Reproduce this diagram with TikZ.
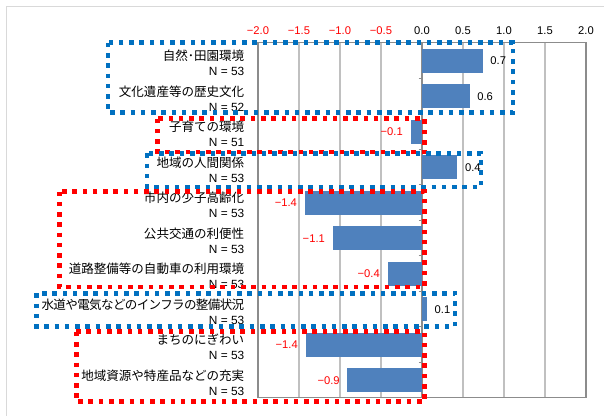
\documentclass[tikz,border=0pt]{standalone}
\usepackage{fontspec}
\setmainfont{Liberation Sans}
\newfontfamily\jp{Noto Sans CJK JP}
\definecolor{barblue}{HTML}{4F81BD}
\definecolor{dotblue}{HTML}{0070C0}
\definecolor{dotred}{HTML}{FF0000}
\definecolor{gridgray}{HTML}{C0C0C0}
\definecolor{axisgray}{HTML}{8C8C8C}
\definecolor{framegray}{HTML}{D9D9D9}
\tikzset{
  num/.style={font=\fontsize{8.4pt}{10pt}\selectfont, inner sep=0pt},
  cat/.style={font=\jp\fontsize{9.4pt}{11pt}\selectfont, inner sep=0pt, anchor=east},
  cnt/.style={font=\fontsize{8.9pt}{10pt}\selectfont, inner sep=0pt, anchor=east},
  dotbox/.style={line width=3.4pt, line cap=butt, dash pattern=on 3.4pt off 4.3pt},
  bluebox/.style={dotbox, draw=dotblue},
  redbox/.style={dotbox, draw=dotred},
  gridline/.style={draw=gridgray, line width=1pt},
  axisline/.style={draw=axisgray, line width=0.9pt}
}
\begin{document}
\begin{tikzpicture}[x=0.75pt,y=-0.75pt]
\useasboundingbox (0,0) rectangle (604,415);
% outer frame
\draw[framegray, line width=0.8pt] (6.7,430) -- (6.7,6.7) -- (620,6.7);
% grid
\foreach \t in {-1.5,-1,-0.5,0.5,1,1.5}
  \draw[gridline] ({422+82*\t},42.7) -- ({422+82*\t},397.7);
\draw[axisline] (258,42.7) rectangle (586,397.7);
\draw[axisline] (422,42.7) -- (422,397.7);
\foreach \k in {1,...,9}
  \draw[axisline] (418.5,{42.7+35.5*\k}) -- (422,{42.7+35.5*\k});
% axis labels
\foreach \i/\t/\s/\c in {1/-2/{−2.0}/dotred,2/-1.5/{−1.5}/dotred,3/-1/{−1.0}/dotred,4/-0.5/{−0.5}/dotred,5/0/{0.0}/black,6/0.5/{0.5}/black,7/1/{1.0}/black,8/1.5/{1.5}/black,9/2/{2.0}/black}
  \node[num, text=\c] (ax\i) at ({422+82*\t},30.7) {\s};
% data
\foreach \k/\lab/\n/\v/\vl in {
  1/{自然･田園環境}/53/0.74/{0.7},
  2/{文化遺産等の歴史文化}/52/0.58/{0.6},
  3/{子育ての環境}/51/-0.14/{−0.1},
  4/{地域の人間関係}/53/0.43/{0.4},
  5/{市内の少子高齢化}/53/-1.43/{−1.4},
  6/{公共交通の利便性}/53/-1.09/{−1.1},
  7/{道路整備等の自動車の利用環境}/53/-0.42/{−0.4},
  8/{\addfontfeature{LetterSpace=-5}水道や電気などのインフラの整備状況}/53/0.06/{0.1},
  9/{まちのにぎわい}/53/-1.42/{−1.4},
  10/{地域資源や特産品などの充実}/53/-0.91/{−0.9}}{
  \pgfmathsetmacro\yc{60.95+35.5*(\k-1)}
  \pgfmathsetmacro\xe{422+82*\v}
  \fill[barblue] (422,\yc-12) rectangle (\xe,\yc+12);
  \node[cat] (c\k) at (244.5,\yc-5) {\lab};
  \node[cnt] (n\k) at (244.5,\yc+10.5) {N = \n};
  \ifdim\v pt>0pt
    \node[num, anchor=west] (v\k) at (\xe+7.5,\yc) {\vl};
  \else
    \node[num, anchor=east, text=dotred] (v\k) at (\xe-7.5,\yc) {\vl};
  \fi
}
% dotted group boxes
\draw[bluebox] (108,42.7) rectangle (513,112.5);
\draw[redbox] (157.7,118.5) rectangle (424.3,152.2);
\draw[bluebox] (147,153.3) rectangle (481,187);
\draw[redbox] (59.3,191.5) rectangle (424.3,287);
\draw[bluebox] (36.3,293.3) rectangle (455,326.3);
\draw[redbox] (76.3,331.7) rectangle (424.3,401.7);
\end{tikzpicture}
\end{document}
